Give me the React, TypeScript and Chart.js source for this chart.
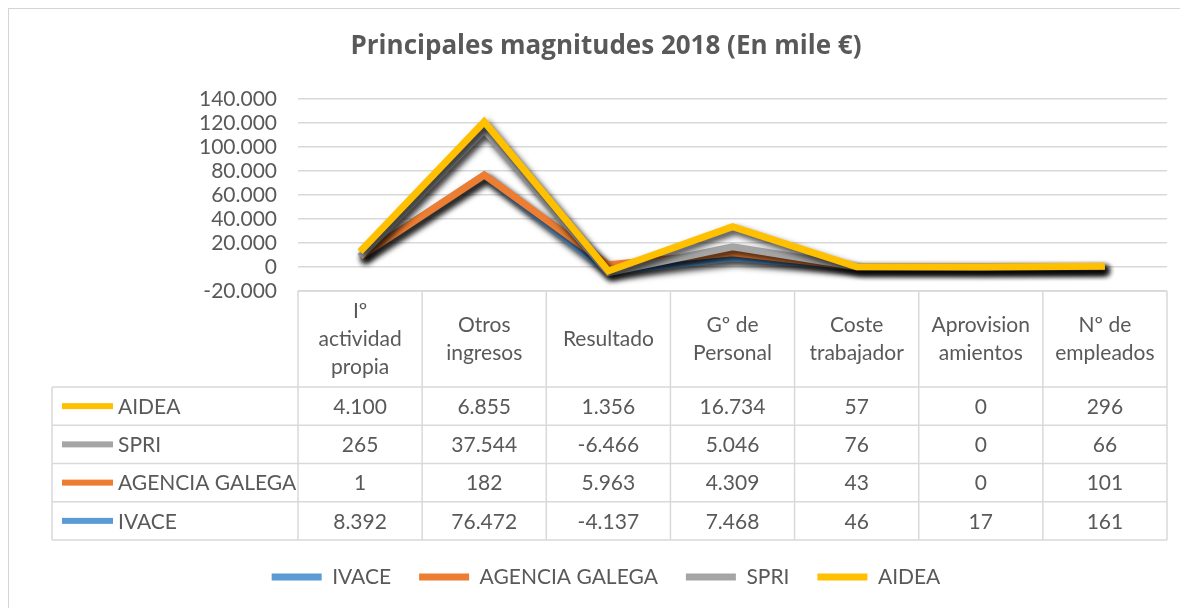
import React, { useEffect, useRef } from 'react';
import { Chart, registerables } from 'chart.js';

Chart.register(...registerables);

// ---- Data ----
const categories: string[][] = [
  ['Iº', 'actividad', 'propia'],
  ['Otros', 'ingresos'],
  ['Resultado'],
  ['Gº de', 'Personal'],
  ['Coste', 'trabajador'],
  ['Aprovision', 'amientos'],
  ['Nº de', 'empleados'],
];
const seriesNames = ['IVACE', 'AGENCIA GALEGA', 'SPRI', 'AIDEA'];
const ivace = [8392, 76472, -4137, 7468, 46, 17, 161];
const agenciaGalega = [1, 182, 5963, 4309, 43, 0, 101];
const spri = [265, 37544, -6466, 5046, 76, 0, 66];
const aidea = [4100, 6855, 1356, 16734, 57, 0, 296];
const seriesColors = ['#5B9BD5', '#ED7D31', '#A5A5A5', '#FFC000'];
const yMin = -20000;
const yMax = 140000;
const yStep = 20000;
const titleText = 'Principales magnitudes 2018 (En mile €)';

const seriesData = [ivace, agenciaGalega, spri, aidea];

const TEXT = '#595959';
const GRID = '#d9d9d9';
const FONT = 'Lato';

const fmt = (v: number) =>
  (v < 0 ? '-' : '') + Math.abs(v).toString().replace(/\B(?=(\d{3})+(?!\d))/g, '.');

// Stacked line (algebraic cumulative, as in the source spreadsheet chart)
const stackedData = seriesData.map((_, si) =>
  categories.map((__, ci) => {
    let s = 0;
    for (let k = 0; k <= si; k++) s += seriesData[k][ci];
    return s;
  })
);

const shadowPlugin = {
  id: 'lineShadow',
  beforeDatasetsDraw(chart: any) {
    const ctx = chart.ctx;
    ctx.save();
    ctx.shadowColor = 'rgba(0,0,0,0.8)';
    ctx.shadowBlur = 6;
    ctx.shadowOffsetX = 3;
    ctx.shadowOffsetY = 4;
  },
  afterDatasetsDraw(chart: any) {
    chart.ctx.restore();
  },
};

const tablePlugin = {
  id: 'dataTable',
  afterDraw(chart: any) {
    const { ctx, chartArea } = chart;
    const xs = chart.scales.x;
    const n = categories.length;
    const left = chartArea.left;
    const right = chartArea.right;
    const top = chartArea.bottom;
    const headerH = 96;
    const rowH = 38.25;
    const nameLeft = 43;
    const rows = seriesNames.length;
    const headerBottom = top + headerH;
    const bottom = headerBottom + rows * rowH;
    const band = (right - left) / n;

    ctx.save();
    ctx.strokeStyle = GRID;
    ctx.lineWidth = 1.5;
    ctx.beginPath();
    ctx.moveTo(left, top);
    ctx.lineTo(right, top);
    for (let i = 0; i <= n; i++) {
      const x = left + i * band;
      ctx.moveTo(x, top);
      ctx.lineTo(x, bottom);
    }
    for (let r = 0; r <= rows; r++) {
      const y = headerBottom + r * rowH;
      ctx.moveTo(nameLeft, y);
      ctx.lineTo(right, y);
    }
    ctx.moveTo(nameLeft, headerBottom);
    ctx.lineTo(nameLeft, bottom);
    ctx.stroke();

    ctx.fillStyle = TEXT;
    ctx.font = `21px ${FONT}`;
    ctx.textAlign = 'center';
    ctx.textBaseline = 'middle';
    const cyH = top + headerH / 2;
    categories.forEach((lines, i) => {
      const cx = xs.getPixelForValue(i);
      lines.forEach((t, j) => {
        ctx.fillText(t, cx, cyH + (j - (lines.length - 1) / 2) * 28);
      });
    });

    const order = [3, 2, 1, 0];
    order.forEach((si, r) => {
      const cy = headerBottom + r * rowH + rowH / 2;
      ctx.fillStyle = seriesColors[si];
      ctx.fillRect(53, cy - 3, 51, 6);
      ctx.fillStyle = TEXT;
      ctx.textAlign = 'left';
      ctx.fillText(seriesNames[si], 109, cy + 1);
      ctx.textAlign = 'center';
      seriesData[si].forEach((v, i) => {
        ctx.fillText(fmt(v), xs.getPixelForValue(i), cy + 1);
      });
    });
    ctx.restore();
  },
};

export default function App() {
  const ref = useRef<HTMLCanvasElement>(null);

  useEffect(() => {
    const prev = document.documentElement.style.overflow;
    document.documentElement.style.overflow = 'hidden';
    Chart.defaults.font.family = FONT;

    const chart = new Chart(ref.current as HTMLCanvasElement, {
      type: 'line',
      data: {
        labels: categories,
        datasets: seriesNames.map((name, i) => ({
          label: name,
          data: stackedData[i],
          borderColor: seriesColors[i],
          backgroundColor: seriesColors[i],
          borderWidth: 7,
          borderJoinStyle: 'miter',
          borderCapStyle: 'butt',
          pointRadius: 0,
          pointHoverRadius: 0,
          tension: 0,
          fill: false,
          order: seriesNames.length - i,
        })),
      },
      options: {
        animation: false,
        responsive: true,
        maintainAspectRatio: false,
        layout: { padding: { left: 36, right: 32, top: 0, bottom: 11.5 } },
        plugins: {
          tooltip: { enabled: false },
          title: {
            display: true,
            text: titleText,
            color: TEXT,
            font: { family: 'Open Sans', size: 26, weight: 'bold' },
            padding: { top: 22, bottom: 36.8 },
          },
          legend: {
            position: 'bottom',
            labels: {
              color: TEXT,
              font: { family: FONT, size: 21 },
              boxWidth: 50,
              boxHeight: 7,
              padding: 28,
              generateLabels: (c: any) =>
                c.data.datasets.map((ds: any, i: number) => ({
                  text: ds.label,
                  fillStyle: ds.borderColor,
                  strokeStyle: ds.borderColor,
                  lineWidth: 0,
                  hidden: false,
                  datasetIndex: i,
                  fontColor: TEXT,
                })),
            },
          },
        },
        scales: {
          x: {
            type: 'category',
            offset: true,
            grid: { display: false },
            border: { display: false },
            ticks: { display: false },
            afterFit: (s: any) => {
              s.height = 247.5;
              s.paddingLeft = 0;
              s.paddingRight = 0;
            },
          },
          y: {
            min: yMin,
            max: yMax,
            ticks: {
              stepSize: yStep,
              autoSkip: false,
              color: TEXT,
              font: { family: FONT, size: 21 },
              padding: 21,
              callback: (v: any) => fmt(Number(v)),
            },
            grid: { color: GRID, lineWidth: 1.5, drawTicks: false },
            border: { display: false },
            afterFit: (s: any) => {
              s.width = 253;
              s.paddingTop = 0;
              s.paddingBottom = 0;
            },
          },
        },
      } as any,
      plugins: [shadowPlugin, tablePlugin],
    });

    return () => {
      chart.destroy();
      document.documentElement.style.overflow = prev;
    };
  }, []);

  return (
    <div
      style={{
        width: 1191,
        height: 601,
        borderLeft: '1px solid #d4d4d4',
        borderTop: '1px solid #d4d4d4',
        boxSizing: 'border-box',
        background: '#fff',
      }}
    >
      <div style={{ position: 'relative', width: 1190, height: 600 }}>
        <canvas ref={ref} />
      </div>
    </div>
  );
}
